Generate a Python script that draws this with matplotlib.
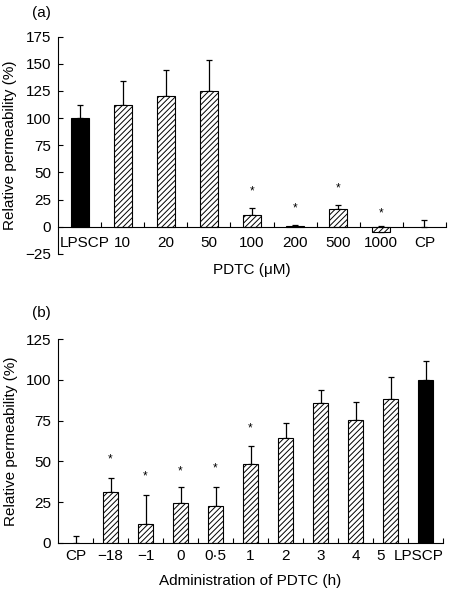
import numpy as np
import matplotlib
matplotlib.use("Agg")
from matplotlib import pyplot as plt
from matplotlib.ticker import FixedLocator
from matplotlib.transforms import ScaledTranslation

plt.rcParams['font.family'] = ['Liberation Sans', 'DejaVu Sans']
plt.rcParams['hatch.linewidth'] = 0.7

# panel (a): PDTC concentration
labels_a = ['LPSCP', '10', '20', '50', '100', '200', '500', '1000', 'CP']
values_a = [100, 112, 120, 125.3, 11.3, 1.2, 16.8, -4.6, 0]
errors_a = [12.5, 22, 24.5, 27.7, 6.1, 0.6, 3.6, 5.8, 6.4]
stars_a = [None, None, None, None, 32.6, 16.8, 35.7, 11.9, None]
yticks_a = [-25, 0, 25, 50, 75, 100, 125, 150, 175]

# panel (b): time of PDTC administration
labels_b = ['CP', '\u221218', '\u22121', '0', '0\u00b75', '1', '2', '3', '4', '5', 'LPSCP']
values_b = [0, 31, 11.5, 24.4, 22.8, 48.3, 64.5, 86, 75.5, 88.3, 99.8]
errors_b = [4.3, 9, 17.9, 9.6, 11.7, 11, 9.2, 7.6, 10.7, 13.3, 11.7]
stars_b = [None, 51, 40.6, 44, 45.4, 70, None, None, None, None, None]
yticks_b = [0, 25, 50, 75, 100, 125]

FS = 11

fig = plt.figure(figsize=(4.54, 5.90), dpi=100)


def draw_panel(ax, labels, values, errors, stars, solid, yticks, ylim, xlabel, label_pad):
    x = np.arange(len(labels))
    for i in x:
        if labels[i] == 'CP':
            # control: error bar only
            ax.errorbar(i, values[i], yerr=[[0], [errors[i]]], fmt='none',
                        ecolor='black', elinewidth=0.9, capsize=2.2, capthick=0.9)
            continue
        if labels[i] == solid:
            ax.bar(i, values[i], width=0.42, color='black', edgecolor='black',
                   linewidth=0.8, zorder=2)
        else:
            ax.bar(i, values[i], width=0.42, color='white', edgecolor='black',
                   linewidth=0.8, hatch='//////', zorder=2)
        ax.errorbar(i, values[i], yerr=[[0], [errors[i]]], fmt='none',
                    ecolor='black', elinewidth=0.9, capsize=2.2, capthick=0.9, zorder=1)
        if stars[i] is not None:
            ax.text(i, stars[i], '*', ha='center', va='center', fontsize=8.5)

    ax.set_xlim(-0.5, len(labels) - 0.5)
    ax.set_ylim(*ylim)
    ax.set_yticks(yticks)
    ax.set_xticks(x)
    ax.set_xticklabels(labels)
    ax.xaxis.set_minor_locator(FixedLocator(np.arange(len(labels)) + 0.5))
    ax.tick_params(axis='x', which='major', length=0, pad=label_pad, labelsize=FS)
    ax.tick_params(axis='x', which='minor', direction='in', length=3.5, width=0.8)
    ax.tick_params(axis='y', direction='in', length=3.5, width=0.8, pad=5, labelsize=FS)
    ax.spines['top'].set_visible(False)
    ax.spines['right'].set_visible(False)
    ax.spines['bottom'].set_position(('data', 0))
    ax.spines['bottom'].set_linewidth(0.8)
    ax.spines['left'].set_linewidth(0.8)
    ax.set_ylabel('Relative permeability (%)', fontsize=FS)
    ax.set_xlabel(xlabel, fontsize=FS)


def shift_label(ax, idx, dx_px):
    lab = ax.get_xticklabels()[idx]
    lab.set_transform(lab.get_transform() + ScaledTranslation(dx_px / 100, 0, fig.dpi_scale_trans))


ax1 = fig.add_axes([0.1278, 0.5695, 0.8546, 0.3685])
draw_panel(ax1, labels_a, values_a, errors_a, stars_a, 'LPSCP', yticks_a, (-25, 175),
           'PDTC (\u03bcM)', 6.5)
ax1.xaxis.set_label_coords(0.5, -0.04)
ax1.yaxis.set_label_coords(-0.105, 0.5)
shift_label(ax1, 0, 5)

ax2 = fig.add_axes([0.1278, 0.0802, 0.848, 0.3447])
draw_panel(ax2, labels_b, values_b, errors_b, stars_b, 'LPSCP', yticks_b, (0, 125),
           'Administration of PDTC (h)', 4.5)
ax2.xaxis.set_label_coords(0.5, -0.154)
ax2.yaxis.set_label_coords(-0.105, 0.5)
shift_label(ax2, 9, -10)
shift_label(ax2, 10, -7)

fig.text(32 / 454, 1 - 12.5 / 590, '(a)', fontsize=FS, ha='left', va='center')
fig.text(32 / 454, 1 - 312.5 / 590, '(b)', fontsize=FS, ha='left', va='center')

fig.savefig('out.png', dpi=100)
